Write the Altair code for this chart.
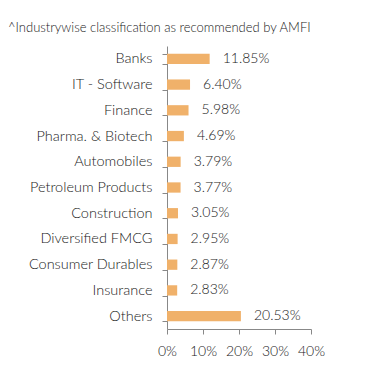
import altair as alt
import pandas as pd

categories = ["Banks", "IT - Software", "Finance", "Pharma. & Biotech", "Automobiles",
              "Petroleum Products", "Construction", "Diversified FMCG", "Consumer Durables",
              "Insurance", "Others"]
values = [11.85, 6.40, 5.98, 4.69, 3.79, 3.77, 3.05, 2.95, 2.87, 2.83, 20.53]
labels = ["11.85%", "6.40%", "5.98%", "4.69%", "3.79%", "3.77%", "3.05%", "2.95%",
          "2.87%", "2.83%", "20.53%"]

df = pd.DataFrame({"cat": categories, "val": values, "lab": labels})

FONT = "Lato"
TXT = "#1a1a1a"
y = alt.Y("cat:N", sort=categories, title=None,
          axis=alt.Axis(tickBand="extent", tickSize=5, labelPadding=10, domainColor="#888",
                        tickColor="#888", labelColor=TXT, labelFontSize=14.5,
                        labelFont=FONT, labelFontWeight=300, minExtent=159),
          scale=alt.Scale(paddingInner=0.6, paddingOuter=0.3))
x = alt.X("val:Q", title=None,
          scale=alt.Scale(domain=[0, 40]),
          axis=alt.Axis(values=[0, 10, 20, 30, 40], labelExpr="datum.value + '%'",
                        grid=False, tickSize=5, labelPadding=10, domainColor="#888",
                        tickColor="#888", labelColor=TXT, labelFontSize=14,
                        labelFont=FONT, labelFontWeight=300, labelFlush=False))

bars = alt.Chart(df).mark_bar(color="#F0B16A").encode(x=x, y=y)
text = alt.Chart(df).mark_text(align="left", dx=13, font=FONT, fontSize=14, fontWeight=300,
                               color=TXT).encode(x=x, y=y, text="lab:N")

chart = (bars + text).properties(
    width=144, height=283,
    title=alt.TitleParams("^Industrywise classification as recommended by AMFI",
                          anchor="start", frame="bounds", font=FONT, fontSize=13,
                          fontWeight=300, color=TXT, offset=3),
    padding={"left": 0, "top": 14, "right": 5, "bottom": 5},
).configure_view(stroke=None)

chart.save("out.html", embed_options={"renderer": "svg", "actions": False})
